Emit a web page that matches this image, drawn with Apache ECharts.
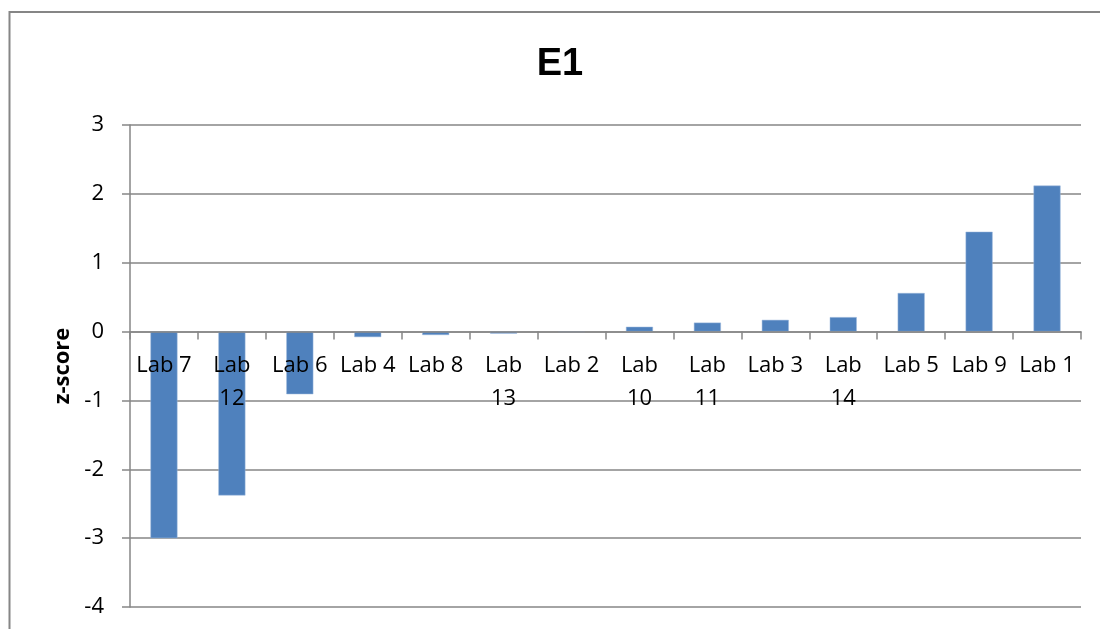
<!DOCTYPE html>
<html>
<head>
<meta charset="utf-8">
<script src="https://cdn.jsdelivr.net/npm/echarts@6/dist/echarts.min.js"></script>
<style>
html,body{margin:0;padding:0;background:#fff;}
#chart{width:1100px;height:629px;}
</style>
</head>
<body>
<div id="chart"></div>
<script>
const categories = ['Lab 7','Lab 12','Lab 6','Lab 4','Lab 8','Lab 13','Lab 2','Lab 10','Lab 11','Lab 3','Lab 14','Lab 5','Lab 9','Lab 1'];
const zScores = [-3.00,-2.38,-0.91,-0.08,-0.05,-0.03,-0.01,0.07,0.13,0.17,0.21,0.56,1.45,2.12];
const yTicks = {min: -4, max: 3, interval: 1};
const titleText = 'E1';
const yName = 'z-score';

const chart = echarts.init(document.getElementById('chart'), null, {renderer: 'canvas'});
const FONT = 'Open Sans';
const grey = '#868686';
const gridTop = 125, gridBottom = 22, H = 629;
const plotH = H - gridTop - gridBottom;
// place category axis line at value 0 (moved up from bottom by the share of the negative range)
const zeroOffset = -plotH * (0 - yTicks.min) / (yTicks.max - yTicks.min);
chart.setOption({
  animation: false,
  backgroundColor: '#fff',
  title: {
    text: titleText, left: 555, top: 41, textAlign: 'center',
    textStyle: {fontFamily: 'Liberation Sans', fontWeight: 'bold', fontSize: 38, color: '#000'}
  },
  graphic: [{
    type: 'rect', silent: true,
    shape: {x: 9.5, y: 12, width: 1200, height: 1000},
    style: {fill: 'none', stroke: grey, lineWidth: 2}
  }],
  grid: {left: 130, right: 19, top: gridTop, bottom: gridBottom, containLabel: false, outerBoundsMode: 'none'},
  xAxis: {
    type: 'category',
    data: categories,
    position: 'bottom',
    offset: zeroOffset,
    z: 10,
    axisLine: {onZero: false, lineStyle: {color: grey, width: 1.5}},
    axisTick: {show: true, alignWithLabel: false, length: 8, lineStyle: {color: grey, width: 1.5}},
    axisLabel: {
      interval: 0, margin: 18, color: '#000', fontFamily: FONT, fontSize: 22, lineHeight: 33,
      formatter: v => v.length > 5 ? v.replace(' ', '\n') : v
    },
    splitLine: {show: false}
  },
  yAxis: {
    type: 'value',
    min: yTicks.min, max: yTicks.max, interval: yTicks.interval,
    name: yName, nameLocation: 'middle', nameRotate: 90, nameGap: 56,
    nameTextStyle: {fontFamily: FONT, fontWeight: 'bold', fontSize: 22, color: '#000'},
    axisLine: {show: true, lineStyle: {color: grey, width: 1.5}},
    axisTick: {show: true, length: 8, lineStyle: {color: grey, width: 1.5}},
    axisLabel: {margin: 26, color: '#000', fontFamily: FONT, fontSize: 22},
    splitLine: {show: true, lineStyle: {color: grey, width: 1.5}}
  },
  series: [{
    type: 'bar',
    data: zScores,
    barWidth: 27,
    z: 2,
    itemStyle: {color: '#4F81BD', borderColor: '#9DB9DD', borderWidth: 0.5}
  }]
});
</script>
</body>
</html>
